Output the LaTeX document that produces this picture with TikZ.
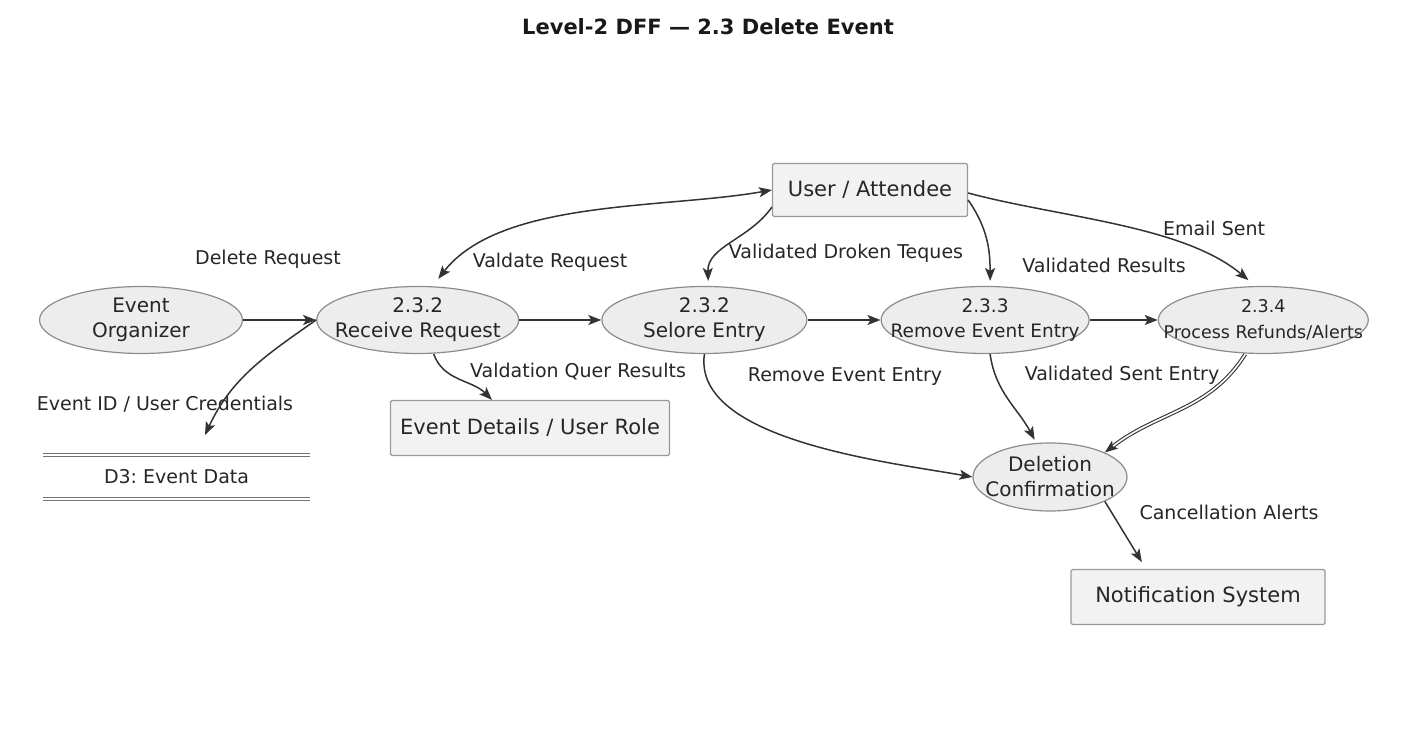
\documentclass[tikz,border=0pt]{standalone}
\usepackage{fontspec}
\setmainfont{DejaVu Sans}
\usetikzlibrary{arrows.meta,positioning,shapes.geometric}

\begin{document}
\begin{tikzpicture}[auto,x=1pt,y=1pt,>={Stealth[length=13pt,width=10pt,inset=3pt]}]
	\tikzstyle{proc} = [draw=black!45, fill=black!7, line width=1.2pt, ellipse, inner xsep=-40pt, inner ysep=-15pt, minimum height=67pt, align=center, text=black!85, font=\fontsize{20}{25}\selectfont]
	\tikzstyle{block} = [draw=black!40, fill=black!5, line width=1.2pt, rectangle, rounded corners=1.5pt, text=black!85, font=\fontsize{21}{24}\selectfont]
	\tikzstyle{lbl} = [text=black!85, font=\fontsize{19}{22}\selectfont]
	\tikzstyle{flow} = [->, draw=black!80, line width=1.5pt]
	\tikzstyle{storeline} = [draw=black!55, line width=1.2pt, double=white, double distance=1.6pt]

	\useasboundingbox (0,0) rectangle (1408,736);
	\node [font=\bfseries\fontsize{21}{24}\selectfont, text=black!90] (title) at (708,709) {Level-2 DFF — 2.3 Delete Event};

	% processes in one row
	\node [proc, minimum width=203pt] (org) at (141,416) {Event\\Organizer};
	\node [proc, minimum width=202pt, right = 73pt of org] (recv) {2.3.2\\Receive Request};
	\node [proc, minimum width=205pt, right = 82pt of recv] (sel) {2.3.2\\Selore Entry};
	\node [proc, minimum width=208pt, right = 73pt of sel, font=\fontsize{18.5}{25}\selectfont] (rem) {2.3.3\\Remove Event Entry};
	\node [proc, minimum width=210pt, right = 68pt of rem, font=\fontsize{17.5}{26}\selectfont] (refund) {2.3.4\\Process Refunds/Alerts};
	\node [proc, minimum width=154pt, minimum height=68pt] (conf) at (1050,259) {Deletion\\Confirmation};

	% externals and store
	\node [block, minimum width=195pt, minimum height=53pt] (user) at (870,546) {User / Attendee};
	\node [block, minimum width=279pt, minimum height=55pt] (det) at (530,308) {Event Details / User Role};
	\node [block, minimum width=254pt, minimum height=55pt] (notif) at (1198,139) {Notification System};
	\node [lbl, minimum width=267pt, minimum height=44pt] (d3) at (176.5,259) {D3:\ Event Data};
	\draw [storeline] (d3.north west) -- (d3.north east);
	\draw [storeline] (d3.south west) -- (d3.south east);
	\coordinate (d3in) at (205,301);

	% flow labels
	\node [lbl] (lDelete) at (268,477) {Delete Request};
	\node [lbl] (lValReq) at (550,474) {Valdate Request};
	\node [lbl] (lCred) at (165,332) {Event ID / User Credentials};
	\node [lbl] (lQuery) at (578,364) {Valdation Quer Results};
	\node [lbl] (lToken) at (846,483) {Validated Droken Teques};
	\node [lbl] (lValRes) at (1104,471) {Validated Results};
	\node [lbl] (lEmail) at (1214,508) {Email Sent};
	\node [lbl] (lRemove) at (845,359) {Remove Event Entry};
	\node [lbl] (lSent) at (1122,361) {Validated Sent Entry};
	\node [lbl] (lCancel) at (1229,224) {Cancellation Alerts};

	\draw [flow] (org) -- (recv);
	\draw [flow] (recv) -- (sel);
	\draw [flow] (sel) -- (rem);
	\draw [flow] (rem) -- (refund);
	\draw [flow, <->, shorten >=9pt] (user.west) to[out=190, in=52, looseness=0.8] ([xshift=15pt]recv.north);
	\draw [flow] (recv.west) to[out=215, in=65] (d3in);
	\draw [flow] ([xshift=16pt]recv.south) to[out=-70, in=135] ([xshift=-38pt]det.north);
	\draw [flow, shorten >=5pt] ([yshift=10pt]user.south west) to[out=235, in=92] ([xshift=4pt]sel.north);
	\draw [flow, shorten >=5pt] ([yshift=-10pt]user.east) to[out=-55, in=90] ([xshift=5pt]rem.north);
	\draw [flow, shorten >=9pt] ([yshift=-3pt]user.east) to[out=-15, in=140, looseness=0.8] ([xshift=-8pt]refund.north);
	\draw [flow] (sel.south) to[out=-98, in=170, looseness=0.75] (conf.west);
	\draw [flow, shorten >=3pt] ([xshift=5pt]rem.south) to[out=-82, in=118] ([xshift=-14pt]conf.north);
	\draw [flow, double=white, double distance=1.6pt, line width=1.1pt] ([xshift=-18pt]refund.south) to[out=238, in=38] (conf.north east);
	\draw [flow, shorten >=8pt] (conf.south east) -- ([xshift=-52pt]notif.north);
\end{tikzpicture}
\end{document}
